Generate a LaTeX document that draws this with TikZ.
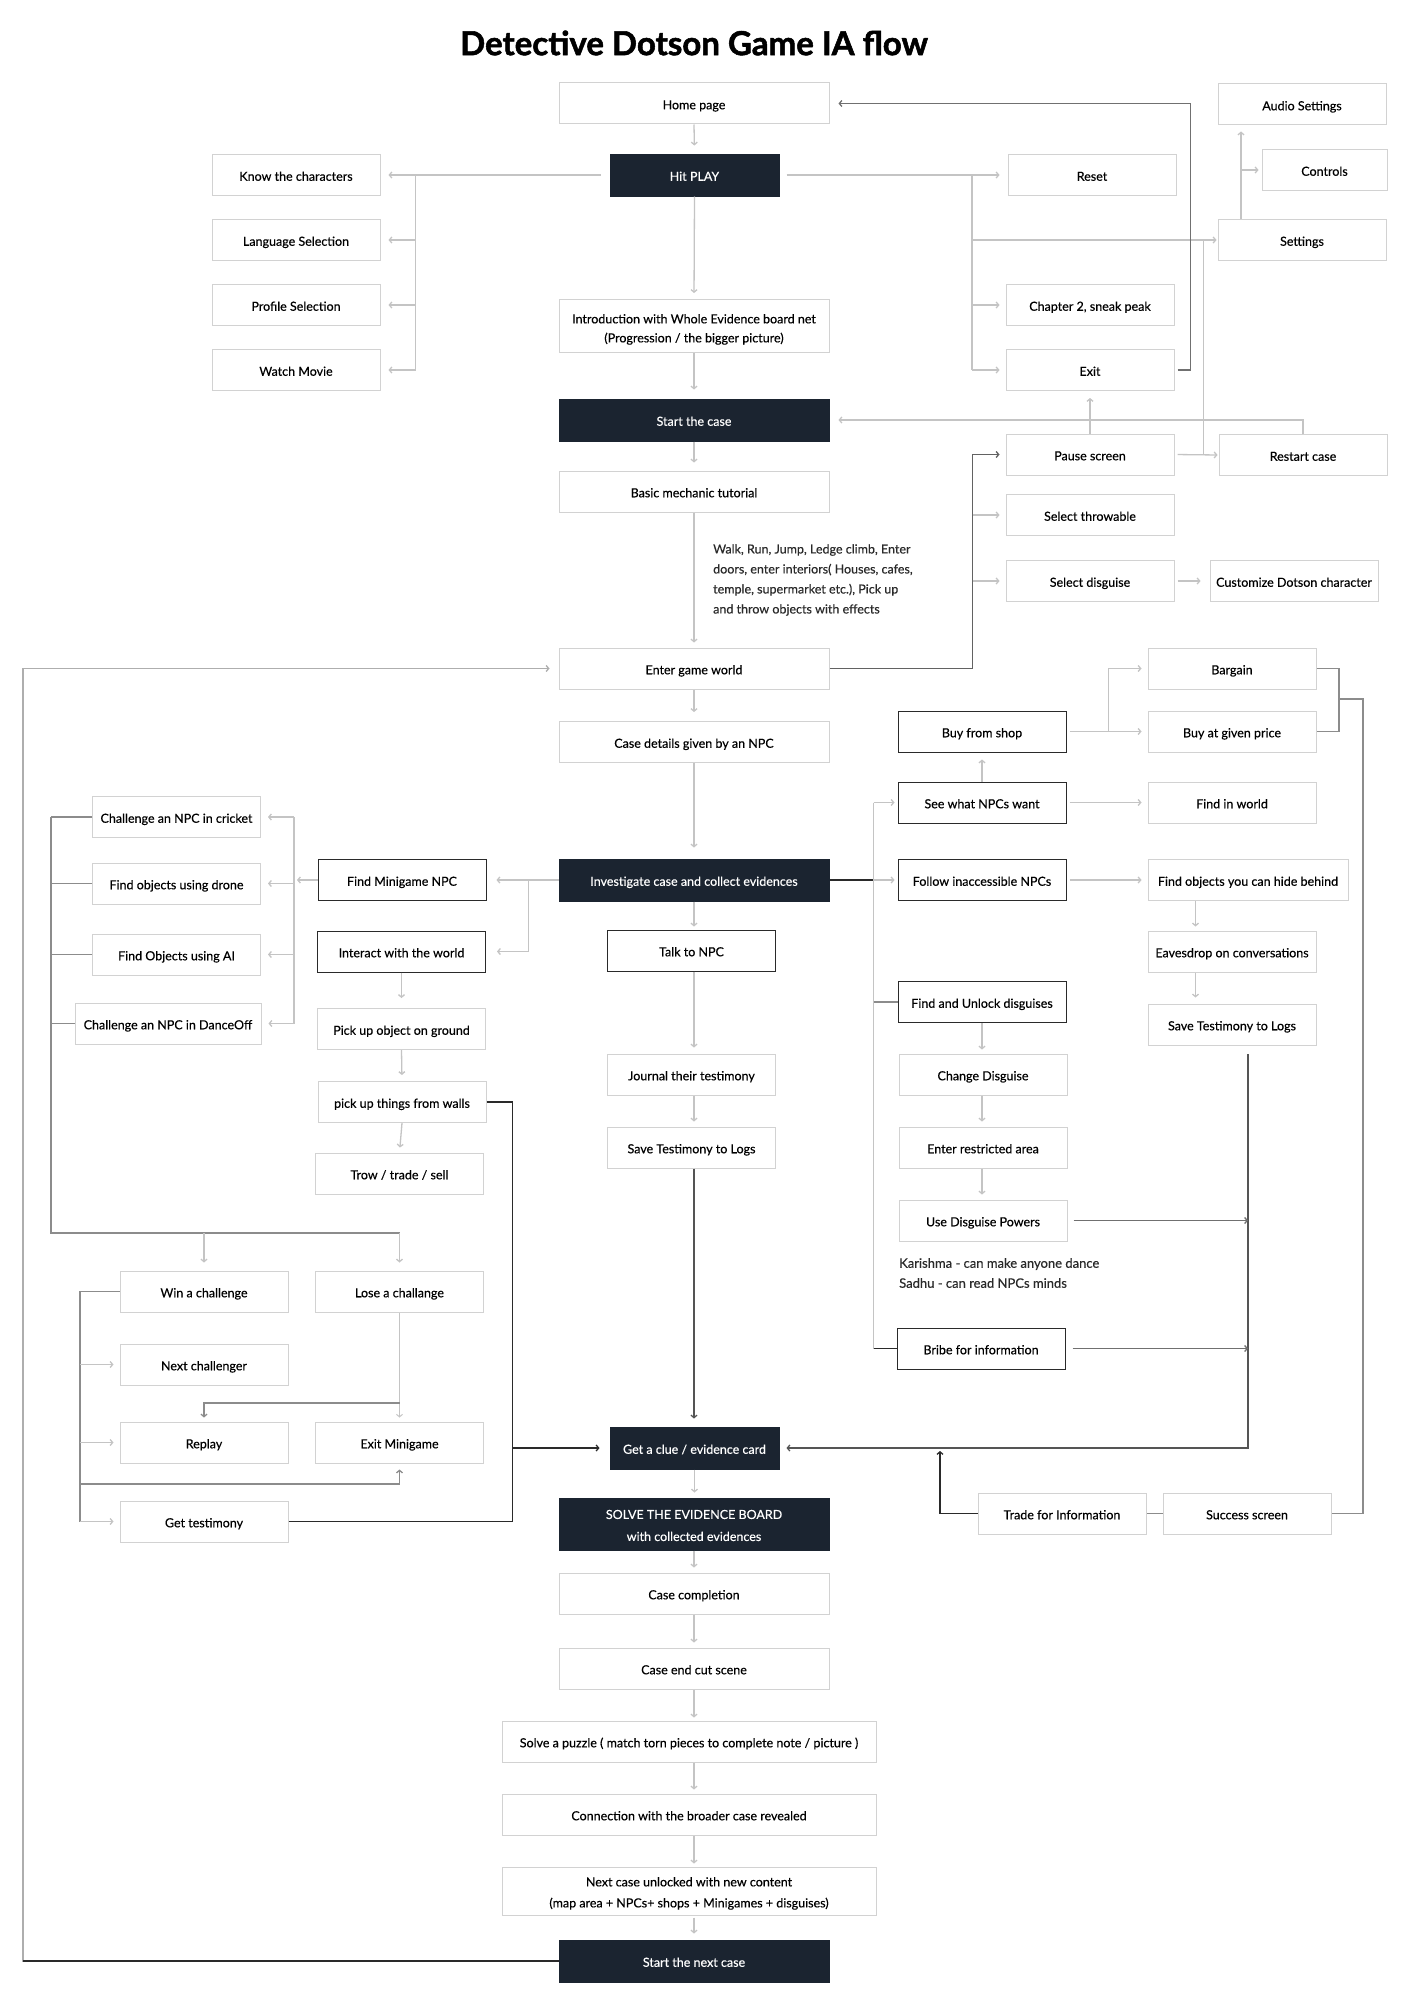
\documentclass[tikz,border=0pt]{standalone}
\usepackage{fontspec}
\setmainfont{Lato}[FakeBold=0.35]
\newfontfamily\titlefont{Lato}[BoldFeatures={FakeBold=1.6}]
\usetikzlibrary{arrows.meta,calc}
\definecolor{bgray}{HTML}{D2D2D2}
\definecolor{lgray}{HTML}{C4C4C4}
\definecolor{mgray}{HTML}{8C8C8C}
\definecolor{dgray}{HTML}{2A2A2A}
\definecolor{darkfill}{HTML}{1B2430}
\newcommand\fs{\fontsize{12.5}{19}\selectfont}
\begin{document}
\begin{tikzpicture}[x=1pt,y=-1pt,
  base/.style={draw=bgray, line width=1pt, fill=white, inner sep=0pt, align=center,
    font=\fs, text=black, minimum width=168pt, minimum height=41pt},
  box/.style={base, text height=11.5pt, text depth=0pt},
  blk/.style={box, draw=dgray},
  drk/.style={box, draw=darkfill, fill=darkfill, text=white},
  mdrk/.style={base, draw=darkfill, fill=darkfill, text=white},
  ln/.style={draw=lgray, line width=1.3pt},
  mln/.style={draw=mgray, line width=1.3pt},
  dln/.style={draw=dgray, line width=1.3pt},
  tip/.style={-{Straight Barb[length=2.5pt,width=6pt]}},
  arr/.style={ln, tip},
  marr/.style={mln, tip},
  darr/.style={dln, tip},
  note/.style={align=left, inner sep=0pt, text=dgray, anchor=west}
]
\useasboundingbox[fill=white] (0,0) rectangle (1400,2015);

% ---------- title
\node[inner sep=0pt, font=\titlefont\fontsize{33}{33}\selectfont\bfseries] (title) at (694,43) {Detective Dotson Game IA flow};

% ---------- nodes
\node[box, minimum width=270pt] (home) at (694,103.5) {Home page};
\node[drk, minimum width=169pt, minimum height=42pt] (play) at (694.5,175) {Hit PLAY};
\node[box] (know) at (296,175) {Know the characters};
\node[box] (lang) at (296,240) {Language Selection};
\node[box] (prof) at (296,305) {Profile Selection};
\node[box] (movie) at (296,370) {Watch Movie};
\node[base, minimum width=270pt, minimum height=53pt] (intro) at (694,326) {\rule{0pt}{16pt}Introduction with Whole Evidence board net\\(Progression / the bigger picture)};
\node[drk, minimum width=270pt, minimum height=42pt] (start) at (694,420) {Start the case};
\node[box] (reset) at (1092,175) {Reset};
\node[box] (audio) at (1302,104.5) {Audio Settings};
\node[box, minimum width=125pt] (controls) at (1324.5,170) {Controls};
\node[box] (settings) at (1302,240) {Settings};
\node[box] (chap2) at (1090,305) {Chapter 2, sneak peak};
\node[box] (exit) at (1090,370) {Exit};
\node[box] (pause) at (1090,454.5) {Pause screen};
\node[box] (restart) at (1303,455) {Restart case};
\node[box, minimum width=270pt] (basic) at (694,491.5) {Basic mechanic tutorial};
\node[box] (throw) at (1090,515) {Select throwable};
\node[box] (disg) at (1090,581) {Select disguise};
\node[box] (custom) at (1294,581) {Customize Dotson character};
\node[note, font=\fontsize{12.5}{20}\selectfont] (walk) at (713,580) {Walk, Run, Jump, Ledge climb, Enter\\doors, enter interiors( Houses, cafes,\\temple, supermarket etc.), Pick up\\and throw objects with effects};
\node[box, minimum width=270pt] (enter) at (694,668.5) {Enter game world};
\node[box] (bargain) at (1232,668.5) {Bargain};
\node[blk] (shop) at (982,731.5) {Buy from shop};
\node[box] (price) at (1232,731.5) {Buy at given price};
\node[box, minimum width=270pt] (case) at (694,742) {Case details given by an NPC};
\node[blk] (want) at (982,802.5) {See what NPCs want};
\node[box] (findw) at (1232,802.5) {Find in world};
\node[box] (cricket) at (176.5,817) {Challenge an NPC in cricket};
\node[box] (drone) at (176.5,883.5) {Find objects using drone};
\node[blk] (findmini) at (402,880) {Find Minigame NPC};
\node[drk, minimum width=270pt, minimum height=42pt] (invest) at (694,880) {Investigate case and collect evidences};
\node[blk] (follow) at (982,880) {Follow inaccessible NPCs};
\node[box, minimum width=200pt] (hide) at (1248,880) {Find objects you can hide behind};
\node[box] (ai) at (176.5,954.5) {Find Objects using AI};
\node[blk] (interact) at (401.5,951.5) {Interact with the world};
\node[blk] (talk) at (691.5,950.5) {Talk to NPC};
\node[box] (eaves) at (1232,951.5) {Eavesdrop on conversations};
\node[box, minimum width=186pt] (dance) at (168,1023.5) {Challenge an NPC in DanceOff};
\node[blk] (unlock) at (982,1002) {Find and Unlock disguises};
\node[box] (logsR) at (1232,1024.5) {Save Testimony to Logs};
\node[box] (pickg) at (401.5,1029) {Pick up object on ground};
\node[box] (journal) at (691.5,1074.5) {Journal their testimony};
\node[box] (change) at (983,1074.5) {Change Disguise};
\node[box] (walls) at (402,1102) {pick up things from walls};
\node[box] (logs) at (691.5,1147.5) {Save Testimony to Logs};
\node[box] (restr) at (983,1147.5) {Enter restricted area};
\node[box] (trow) at (399.5,1173.5) {Trow / trade / sell};
\node[box] (powers) at (983,1220.5) {Use Disguise Powers};
\node[note, font=\fontsize{13}{20}\selectfont] (karishma) at (899,1273) {Karishma - can make anyone dance\\Sadhu - can read NPCs minds};
\node[box] (win) at (204,1291.5) {Win a challenge};
\node[box] (lose) at (399.5,1291.5) {Lose a challange};
\node[blk] (bribe) at (981,1348.5) {Bribe for information};
\node[box] (next) at (204,1364.5) {Next challenger};
\node[box] (replay) at (204,1442.5) {Replay};
\node[box] (exitm) at (399.5,1442.5) {Exit Minigame};
\node[drk, minimum width=169pt, minimum height=42pt] (clue) at (694.5,1448) {Get a clue / evidence card};
\node[box] (trade) at (1062,1513.5) {Trade for Information};
\node[box] (success) at (1247,1513.5) {Success screen};
\node[box] (testi) at (204,1521.5) {Get testimony};
\node[mdrk, minimum width=270pt, minimum height=52pt, font=\fontsize{12.5}{22}\selectfont] (solve) at (694,1524) {\rule{0pt}{12pt}SOLVE THE EVIDENCE BOARD\\with collected evidences};
\node[box, minimum width=270pt] (compl) at (694,1593.5) {Case completion};
\node[box, minimum width=270pt] (cut) at (694,1668.5) {Case end cut scene};
\node[box, minimum width=374pt] (puzzle) at (689,1741.5) {Solve a puzzle ( match torn pieces to complete note / picture )};
\node[box, minimum width=374pt] (conn) at (689,1814.5) {Connection with the broader case revealed};
\node[base, minimum width=374pt, minimum height=48pt, font=\fontsize{12.5}{21}\selectfont] (nextcase) at (689,1891) {\rule{0pt}{14pt}Next case unlocked with new content\\(map area + NPCs+ shops + Minigames + disguises)};
\node[drk, minimum width=270pt, minimum height=42pt] (startnext) at (694,1961) {Start the next case};

% ---------- coordinates
\coordinate (lb) at (415.6,175);
\coordinate (rb) at (972,175);
\coordinate (mb) at (294,817);
\coordinate (lbus) at (51,1233);
\coordinate (wb) at (80,1291.5);
\coordinate (rbus) at (873.6,802.5);
\coordinate (cb) at (1248,1054);
\coordinate (loop) at (23,668.5);

% ---------- top area
\draw[arr, shorten >=8pt] (home.south) -- (play.north);
\draw[arr, shorten >=6pt] (play.south) -- (intro.north);
\draw[arr, shorten >=9pt] (intro.south) -- (start.north);
\draw[arr, shorten <=9pt, shorten >=8pt] (play.west) -- (know.east);
\draw[ln] (lb) -- (lb |- movie.east);
\foreach \n in {lang,prof,movie} \draw[arr, shorten >=8pt] (lb |- \n.east) -- (\n.east);
\draw[arr, shorten <=7pt, shorten >=8pt] (play.east) -- (reset.west);
\draw[ln] (rb) -- (rb |- exit.west);
\draw[arr, shorten >=1pt] (rb |- settings.west) -- (settings.west);
\draw[arr, shorten >=6pt] (rb |- chap2.west) -- (chap2.west);
\draw[arr, shorten >=6pt] (rb |- exit.west) -- (exit.west);
\draw[darr, draw=mgray!80!black, shorten <=3pt, shorten >=9pt] (exit.east) -- ++(16,0) |- (home.east);
\draw[arr, shorten >=6pt] ([xshift=-61pt]settings.north) -- ([xshift=-61pt]settings.north |- audio.south);
\draw[arr, shorten >=3pt] ([xshift=-61pt]settings.north |- controls.west) -- (controls.west);
\draw[arr, shorten >=9pt] (restart.north) |- (start.east);
\draw[arr, shorten >=7pt] (pause.north) -- (exit.south);
\draw[arr, shorten <=3pt, shorten >=1pt] (pause.east) -- (restart.west);
\draw[ln] ([xshift=-15pt]restart.west) -- ([xshift=-15pt]restart.west |- settings.west);
\draw[arr, shorten >=8pt] (start.south) -- (basic.north);
\draw[arr, shorten >=5pt] (basic.south) -- (enter.north);
\draw[darr, draw=mgray!70!black, shorten >=6pt] (enter.east) -| ([xshift=-33pt]pause.west) -- (pause.west);
\draw[arr, shorten >=6pt] ([xshift=-33pt]throw.west) -- (throw.west);
\draw[arr, shorten >=6pt] ([xshift=-33pt]disg.west) -- (disg.west);
\draw[arr, shorten <=3pt, shorten >=9pt] (disg.east) -- (custom.west);
\draw[arr, shorten >=9pt] (enter.south) -- (case.north);

% ---------- loop back
\draw[marr, draw=lgray!60!mgray, shorten >=9pt] (startnext.west) -| (loop) -- (enter.west);
\draw[dln] (startnext.west) -- (startnext.west -| loop);

% ---------- investigate left
\draw[arr, shorten >=11pt] (case.south) -- (invest.north);
\draw[arr, shorten >=10pt] (invest.west) -- (findmini.east);
\draw[arr, shorten >=11pt] (528.5,880) |- (interact.east);
\draw[arr, shorten >=3pt] (findmini.west) -- (findmini.west -| mb);
\draw[ln] (mb) -- (mb |- dance.east);
\foreach \n in {cricket,drone,ai,dance} \draw[arr, shorten >=7pt] (mb |- \n.east) -- (\n.east);
\foreach \n in {cricket,drone,ai,dance} \draw[mln] (\n.west) -- (\n.west -| lbus);
\draw[mln] (lbus |- cricket.west) -- (lbus) -- (lbus -| lose.north);
\draw[arr, shorten >=8pt] (lbus -| win.north) -- (win.north);
\draw[arr, shorten >=8pt] (lbus -| lose.north) -- (lose.north);
\draw[arr, shorten >=10pt] (interact.south) -- (pickg.north);
\draw[arr, shorten >=6pt] (pickg.south) -- (walls.north);
\draw[arr, shorten >=5pt] (walls.south) -- (trow.north);

% ---------- minigame results
\draw[mln] (win.west) -- (wb) -- (wb |- testi.west);
\draw[arr, shorten >=6pt] (wb |- next.west) -- (next.west);
\draw[arr, shorten >=6pt] (wb |- replay.west) -- (replay.west);
\draw[arr, shorten >=6pt] (wb |- testi.west) -- (testi.west);
\draw[marr, shorten >=6pt] (80,1484) -| (exitm.south);
\draw[ln, line width=1pt, tip, shorten >=4pt] (lose.south) -- (exitm.north);
\draw[marr, shorten >=4pt] (399.5,1403) -| (replay.north);
\draw[darr, shorten >=10pt] (walls.east) -| (512.5,1448) -- (clue.west);
\draw[dln] (testi.east) -| (512.5,1448);

% ---------- middle column
\draw[arr, shorten >=3pt] (invest.south) -- (invest.south |- talk.north);
\draw[arr, shorten >=6pt] (invest.south |- talk.south) -- (invest.south |- journal.north);
\draw[arr, shorten >=5pt] (invest.south |- journal.south) -- (invest.south |- logs.north);
\draw[darr, draw=mgray!60!black, shorten >=8pt] (invest.south |- logs.south) -- (invest.south |- clue.north);
\draw[arr, shorten >=5pt] (clue.south) -- (clue.south |- solve.north);
\draw[arr, shorten >=5pt] (solve.south) -- (compl.north);
\draw[arr, shorten >=5pt] (compl.south) -- (cut.north);
\draw[arr, shorten >=3pt] (cut.south) -- (cut.south |- puzzle.north);
\draw[arr, shorten >=4pt] (cut.south |- puzzle.south) -- (cut.south |- conn.north);
\draw[arr, shorten >=3pt] (cut.south |- conn.south) -- (cut.south |- nextcase.north);
\draw[arr, shorten <=2pt, shorten >=6pt] (cut.south |- nextcase.south) -- (startnext.north);

% ---------- investigate right
\draw[dln] (invest.east) -- (invest.east -| rbus);
\draw[ln] (rbus) -- (rbus |- bribe.west);
\draw[arr, shorten >=3pt] (rbus) -- (want.west);
\draw[arr, shorten >=3pt] (follow.west -| rbus) -- (follow.west);
\draw[mln] (unlock.west -| rbus) -- (unlock.west);
\draw[dln] (bribe.west -| rbus) -- (bribe.west);
\draw[arr, shorten >=7pt] (want.north) -- (shop.south);
\draw[arr, shorten <=3pt, shorten >=6pt] (shop.east) -- (price.west);
\draw[arr, shorten >=6pt] (1108.5,731.5) |- (bargain.west);
\draw[mln] (bargain.east) -| (1339,731.5) -- (price.east);
\draw[mln] (1339,699) -| (1363,1513.5) -- (success.east);
\draw[arr, shorten <=3pt, shorten >=6pt] (want.east) -- (findw.west);
\draw[arr, shorten <=3pt, shorten >=6pt] (follow.east) -- (hide.west);
\draw[arr, shorten >=4pt] ([xshift=-52.5pt]hide.south) -- ([xshift=-36.5pt]eaves.north);
\draw[arr, shorten >=6pt] ([xshift=-36.5pt]eaves.south) -- ([xshift=-36.5pt]logsR.north);
\draw[arr, shorten >=4pt] (unlock.south) -- (change.north -| unlock.south);
\draw[arr, shorten >=5pt] (change.south -| unlock.south) -- (restr.north -| unlock.south);
\draw[arr, shorten >=5pt] (restr.south -| unlock.south) -- (powers.north -| unlock.south);
\draw[darr, draw=dgray!80, shorten >=7pt] (cb) |- (clue.east);
\draw[marr, draw=mgray!80!black, shorten <=6pt] (powers.east) -- (powers.east -| cb);
\draw[marr, draw=mgray!80!black, shorten <=7pt] (bribe.east) -- (bribe.east -| cb);
\draw[darr, shorten >=3pt] (trade.west) -| (940,1448);
\draw[mln] (success.west) -- (trade.east);
\end{tikzpicture}
\end{document}
